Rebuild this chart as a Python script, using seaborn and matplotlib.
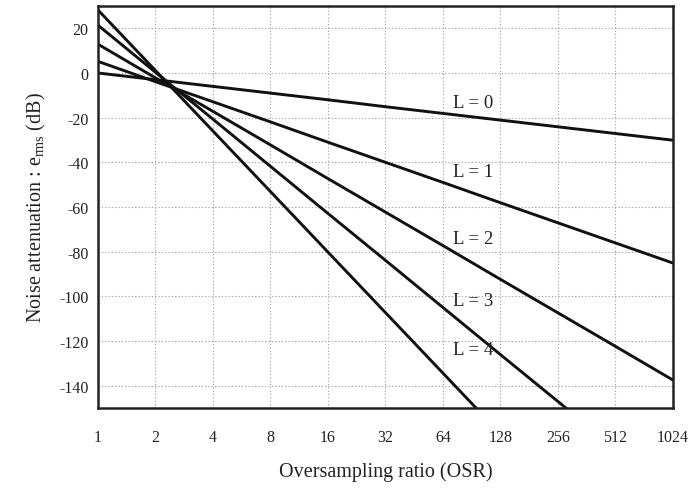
import matplotlib
matplotlib.use("Agg")
import matplotlib.pyplot as plt
import seaborn as sns
import pandas as pd
import numpy as np

osr = [1, 2, 4, 8, 16, 32, 64, 128, 256, 512, 1024]
atten_L0 = [0.0, -3.0, -6.0, -9.0, -12.0, -15.1, -18.1, -21.1, -24.1, -27.1, -30.1]
atten_L1 = [5.2, -3.9, -12.9, -21.9, -31.0, -40.0, -49.0, -58.1, -67.1, -76.1, -85.1]
atten_L2 = [12.9, -2.2, -17.2, -32.2, -47.3, -62.3, -77.3, -92.4, -107.4, -122.4, -137.5]
atten_L3 = [21.4, 0.3, -20.7, -41.8, -62.9, -83.9, -105.0, -126.1, -147.1, -168.2, -189.2]
atten_L4 = [28.2, 1.1, -26.0, -53.1, -80.2, -107.3, -134.4, -161.5, -188.6, -215.7, -242.8]
labels = ["L = 0", "L = 1", "L = 2", "L = 3", "L = 4"]
label_pos_osr = [72, 72, 72, 72, 72]
label_pos_db = [-13, -44, -74, -102, -124]
y_ticks = [20, 0, -20, -40, -60, -80, -100, -120, -140]

series = [atten_L0, atten_L1, atten_L2, atten_L3, atten_L4]
rows = []
for lab, vals in zip(labels, series):
    for o, v in zip(osr, vals):
        rows.append({"OSR": o, "dB": v, "L": lab})
df = pd.DataFrame(rows)

sns.set_theme(style="white")
plt.rcParams["font.family"] = ["Liberation Serif", "DejaVu Serif"]
plt.rcParams["mathtext.fontset"] = "custom"
plt.rcParams["mathtext.rm"] = "Liberation Serif"
plt.rcParams["mathtext.it"] = "Liberation Serif:italic"

fig = plt.figure(figsize=(6.92, 4.89), dpi=100)
ax = fig.add_axes([0.1416, 0.1636, 0.9725 - 0.1416, 0.9857 - 0.1636])

sns.lineplot(data=df, x="OSR", y="dB", hue="L", palette=["#111111"] * 5,
             legend=False, linewidth=2.1, ax=ax)

ax.set_xscale("log", base=2)
ax.set_xlim(1, 1024)
ax.set_ylim(-150, 30)
ax.set_xticks(osr)
ax.set_xticklabels([str(o) for o in osr])
ax.minorticks_off()
ax.set_yticks(y_ticks)
ax.set_yticklabels([str(t) for t in y_ticks])
ax.grid(True, which="major", color="#999999", linestyle=(0, (1, 2)), linewidth=0.8)

for s in ax.spines.values():
    s.set_color("#222222")
    s.set_linewidth(1.8)
ax.tick_params(axis="both", direction="inout", length=6, width=1.2,
               color="#222222", labelsize=11.5, labelcolor="#222222")
ax.tick_params(axis="x", pad=12)
ax.tick_params(axis="y", pad=4)

for lab, xo, yd in zip(labels, label_pos_osr, label_pos_db):
    ax.text(xo, yd, lab, fontsize=13.5, color="#222222", ha="left", va="center")

ax.set_xlabel("Oversampling ratio (OSR)", fontsize=14.5, color="#222222", labelpad=12)
ax.set_ylabel(r"Noise attenuation : e$_{\mathrm{rms}}$ (dB)", fontsize=14.5,
              color="#222222", labelpad=8)

fig.savefig("out.png", dpi=100)
